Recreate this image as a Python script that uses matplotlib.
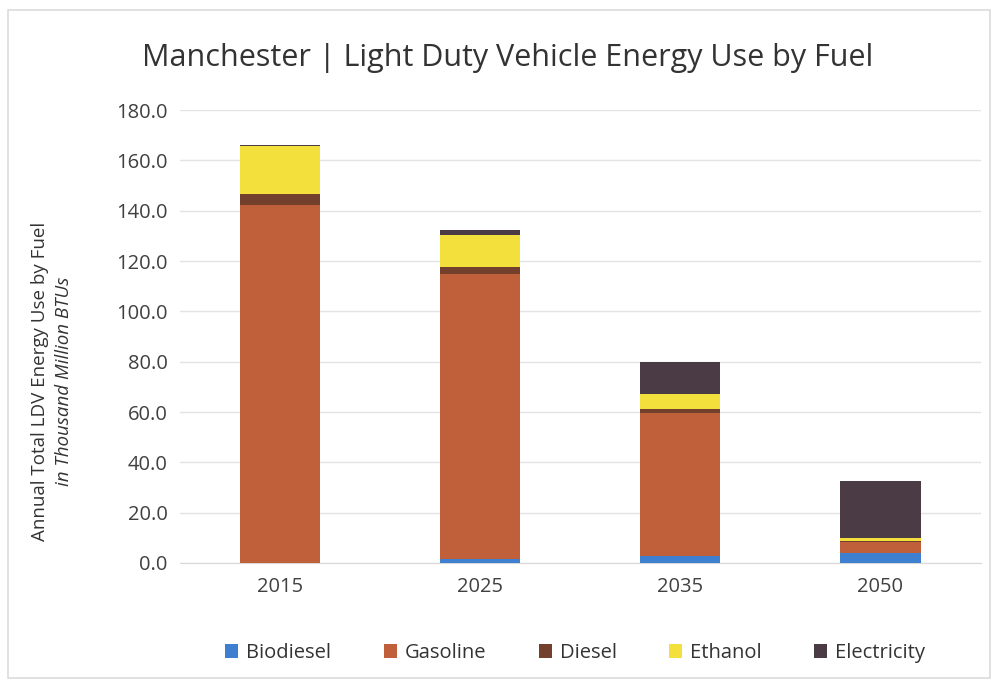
import matplotlib
matplotlib.use("Agg")
import matplotlib.pyplot as plt
from matplotlib.patches import Rectangle
import numpy as np

plt.rcParams['font.family'] = ['Open Sans', 'DejaVu Sans']

years = ["2015", "2025", "2035", "2050"]
biodiesel = [0.0, 1.5, 2.9, 4.0]
gasoline = [142.2, 113.5, 56.6, 4.5]
diesel = [4.4, 2.7, 1.7, 0.3]
ethanol = [19.2, 12.5, 6.0, 1.3]
electricity = [0.3, 2.0, 12.8, 22.4]

series = [("Biodiesel", biodiesel, "#3f7fcf"),
          ("Gasoline", gasoline, "#c0603a"),
          ("Diesel", diesel, "#74402e"),
          ("Ethanol", ethanol, "#f4e03c"),
          ("Electricity", electricity, "#4a3b45")]

yticks = [0, 20, 40, 60, 80, 100, 120, 140, 160, 180]

fig = plt.figure(figsize=(9.97, 6.81), dpi=100)
fig.patches.append(Rectangle((0.008, 0.005), 0.985, 0.98, transform=fig.transFigure,
                             fill=False, edgecolor="#dcdcdc", linewidth=1.2))
ax = fig.add_axes([0.1805, 0.1733, 0.803, 0.665])

x = np.arange(len(years))
bottom = np.zeros(len(years))
for name, vals, color in series:
    ax.bar(x, vals, width=0.4, bottom=bottom, color=color, label=name, zorder=3)
    bottom += np.array(vals)

ax.set_ylim(0, 180)
ax.set_xlim(-0.5, 3.5)
ax.set_yticks(yticks)
ax.set_yticklabels([f"{v:.1f}" for v in yticks], fontsize=14.5, color="#404040")
ax.set_xticks(x)
ax.set_xticklabels(years, fontsize=14.5, color="#404040")
ax.tick_params(axis='y', length=0, pad=9)
ax.tick_params(axis='x', length=0, pad=10)
ax.grid(axis='y', color="#e3e3e3", linewidth=1, zorder=0)
for s in ['top', 'right', 'left']:
    ax.spines[s].set_visible(False)
ax.spines['bottom'].set_color("#d9d9d9")

fig.text(0.509, 0.915, "Manchester | Light Duty Vehicle Energy Use by Fuel",
         ha='center', va='center', fontsize=22, color="#333333")
fig.text(0.040, 0.44, "Annual Total LDV Energy Use by Fuel", rotation=90,
         ha='center', va='center', fontsize=13.5, color="#333333")
fig.text(0.064, 0.44, "in Thousand Million BTUs", rotation=90, style='italic',
         ha='center', va='center', fontsize=13.5, color="#333333")

ax.legend(loc='center', bbox_to_anchor=(0.577, 0.041), bbox_transform=fig.transFigure,
          ncol=5, frameon=False, fontsize=14.5, handlelength=0.65, handleheight=0.65,
          columnspacing=2.6, handletextpad=0.4, labelcolor="#333333")

fig.savefig("out.png", dpi=100)
